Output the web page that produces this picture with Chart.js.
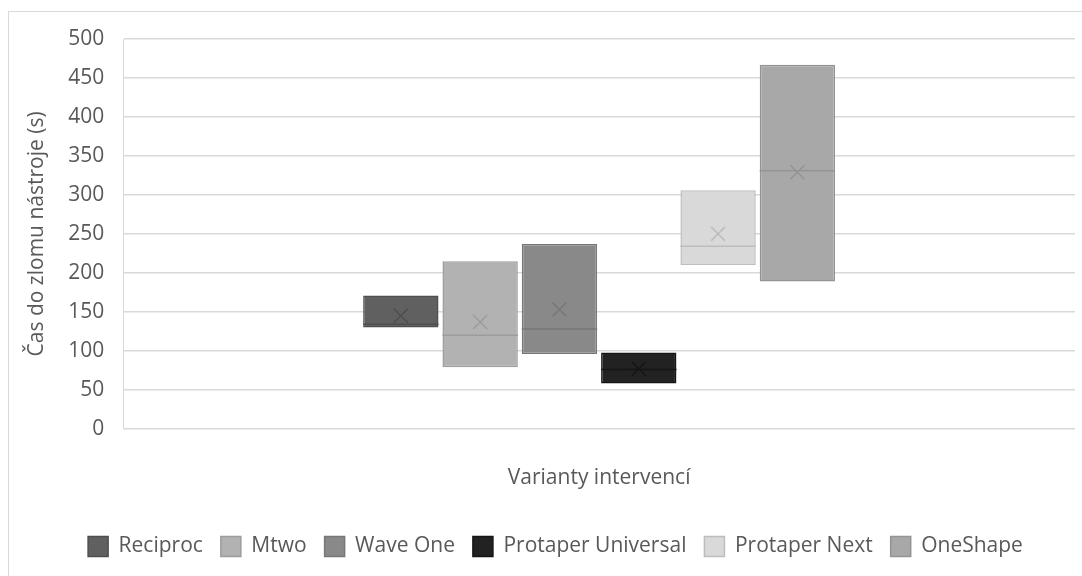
<!DOCTYPE html>
<html>
<head>
<meta charset="utf-8">
<script src="https://cdn.jsdelivr.net/npm/chart.js@4"></script>
<style>
  html, body { margin: 0; padding: 0; background: #fff; overflow: hidden; }
  #frame { position: absolute; left: 8px; top: 11px; width: 1100px; height: 600px; border: 1px solid #d9d9d9; }
  #chart { position: absolute; left: 0; top: 0; }
</style>
</head>
<body>
<div id="frame"></div>
<canvas id="chart" width="1082" height="576"></canvas>
<script>
// box plot data
const series = ['Reciproc', 'Mtwo', 'Wave One', 'Protaper Universal', 'Protaper Next', 'OneShape'];
const q1 = [130, 79, 96, 58, 210, 189];
const q3 = [171, 215, 237, 98, 306, 467];
const medians = [134, 120, 128, 76, 234, 331];
const means = [145, 137, 153, 77, 250, 329];
const yTicks = [0, 50, 100, 150, 200, 250, 300, 350, 400, 450, 500];

const fills = ['#606060', '#b2b2b2', '#898989', '#222222', '#d9d9d9', '#a8a8a8'];
const strokes = ['#4e4e4e', '#9c9c9c', '#777777', '#151515', '#bdbdbd', '#939393'];

const textColor = '#595959';
const font = { family: '"Open Sans", sans-serif', size: 21 };

// median line + mean cross drawn on top of each box
const boxExtras = {
  id: 'boxExtras',
  afterLayout(chart) {
    // legend sits a little right of centre in the original
    chart.legend.left += 8;
    chart.legend.right += 8;
  },
  afterDatasetsDraw(chart) {
    const ctx = chart.ctx;
    const y = chart.scales.y;
    series.forEach((name, i) => {
      const bar = chart.getDatasetMeta(i).data[0];
      if (!bar) return;
      const half = bar.width / 2;
      ctx.save();
      ctx.strokeStyle = strokes[i];
      ctx.lineWidth = 1.5;
      const my = y.getPixelForValue(medians[i]);
      ctx.beginPath();
      ctx.moveTo(bar.x - half, my);
      ctx.lineTo(bar.x + half, my);
      ctx.stroke();
      const ay = y.getPixelForValue(means[i]);
      const s = 7;
      ctx.beginPath();
      ctx.moveTo(bar.x - s, ay - s);
      ctx.lineTo(bar.x + s, ay + s);
      ctx.moveTo(bar.x + s, ay - s);
      ctx.lineTo(bar.x - s, ay + s);
      ctx.stroke();
      ctx.restore();
    });
  }
};

new Chart(document.getElementById('chart'), {
  type: 'bar',
  data: {
    labels: [''],
    datasets: series.map((name, i) => ({
      label: name,
      data: [[q1[i], q3[i]]],
      backgroundColor: fills[i],
      borderColor: strokes[i],
      borderWidth: 1.5,
      borderSkipped: false,
      categoryPercentage: 0.5,
      barPercentage: 0.95
    }))
  },
  options: {
    responsive: false,
    animation: false,
    layout: { padding: { left: 20, right: 7, top: 39, bottom: 9 } },
    plugins: {
      tooltip: { enabled: false },
      legend: {
        position: 'bottom',
        labels: { color: textColor, font: font, boxWidth: 20, boxHeight: 20, padding: 18 }
      }
    },
    scales: {
      x: {
        grid: { display: false },
        border: { display: false },
        ticks: { display: false },
        title: { display: true, text: 'Varianty intervencí', color: textColor, font: font, padding: { top: 29, bottom: 27 } }
      },
      y: {
        min: 0,
        max: 500,
        afterBuildTicks: (axis) => { axis.ticks = yTicks.map(v => ({ value: v })); },
        grid: { color: '#d9d9d9', lineWidth: 1.5, drawTicks: false },
        border: { display: true, color: '#d9d9d9' },
        ticks: { color: textColor, font: font, padding: 19 },
        title: { display: true, text: 'Čas do zlomu nástroje (s)', color: textColor, font: font, padding: { top: 4, bottom: 0 } }
      }
    }
  },
  plugins: [boxExtras]
});
</script>
</body>
</html>
